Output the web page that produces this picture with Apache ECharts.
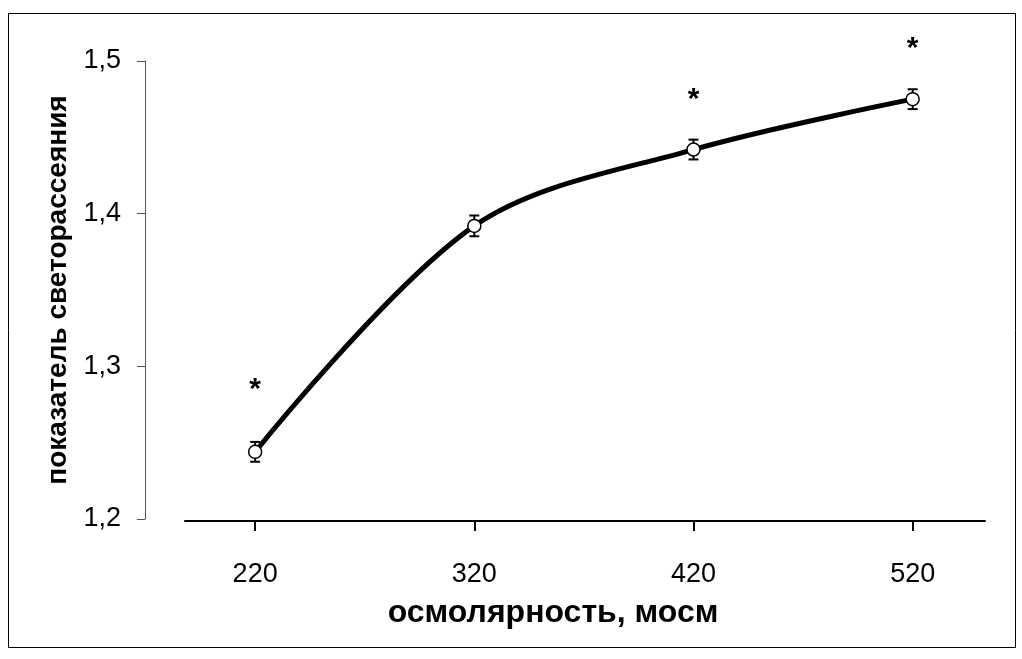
<!DOCTYPE html>
<html>
<head>
<meta charset="utf-8">
<script src="https://cdn.jsdelivr.net/npm/echarts@6/dist/echarts.min.js"></script>
<style>
  html, body { margin: 0; padding: 0; background: #fff; }
  #chart { width: 1022px; height: 659px; }
</style>
</head>
<body>
<div id="chart"></div>
<script>
// Osmolarity (mOsm) and light-scattering index, mean ± error
const osmolarity = [220, 320, 420, 520];
const scattering = [1.244, 1.392, 1.442, 1.475];
const errors = [0.0065, 0.0068, 0.0065, 0.0065];
const significant = [true, false, true, true];
const yTicks = [1.2, 1.3, 1.4, 1.5];

const FONT = 'Liberation Sans, Arial, sans-serif';

const lineData = osmolarity.map((x, i) => ({
  value: [x, scattering[i]],
  // the lowest point carries its asterisk a little higher
  label: { distance: i === 0 ? 40 : 28 }
}));
const errData = osmolarity.map((x, i) => [x, scattering[i] - errors[i], scattering[i] + errors[i]]);

const chart = echarts.init(document.getElementById('chart'), null, { renderer: 'canvas' });

chart.setOption({
  backgroundColor: '#fff',
  animation: false,
  graphic: [{
    type: 'rect',
    shape: { x: 8.5, y: 13.5, width: 1007, height: 634 },
    style: { fill: 'none', stroke: '#000', lineWidth: 1 },
    silent: true
  }],
  grid: { left: 185, right: 37, top: 61, bottom: 140 },
  xAxis: {
    type: 'value',
    min: 188,
    max: 553,
    offset: 2,
    splitLine: { show: false },
    axisLine: { show: true, lineStyle: { color: '#000', width: 2 } },
    axisTick: { show: true, length: 10, customValues: osmolarity, lineStyle: { color: '#000', width: 2 } },
    axisLabel: { customValues: osmolarity, fontSize: 27, color: '#000', fontFamily: FONT, margin: 40 },
    name: 'осмолярность, мосм',
    nameLocation: 'middle',
    nameGap: 76,
    nameTextStyle: {
      fontSize: 32, fontWeight: 'bold', color: '#000', fontFamily: FONT,
      padding: [0, 64, 0, 0]
    }
  },
  yAxis: {
    type: 'value',
    min: 1.2,
    max: 1.5,
    interval: 0.1,
    offset: 40,
    splitLine: { show: false },
    axisLine: { show: true, lineStyle: { color: '#555', width: 1 } },
    axisTick: { show: true, length: 8, lineStyle: { color: '#555', width: 1 } },
    axisLabel: {
      fontSize: 27, color: '#000', fontFamily: FONT, margin: 24,
      formatter: v => v.toFixed(1).replace('.', ',')
    },
    name: 'показатель светорассеяния',
    nameLocation: 'middle',
    nameGap: 68,
    nameTextStyle: { fontSize: 28, fontWeight: 'bold', color: '#000', fontFamily: FONT }
  },
  series: [
    {
      type: 'custom',
      z: 2,
      silent: true,
      data: errData,
      renderItem: (params, api) => {
        const x = api.value(0);
        const lo = api.coord([x, api.value(1)]);
        const hi = api.coord([x, api.value(2)]);
        const w = 5;
        const st = { stroke: '#000', lineWidth: 2 };
        return {
          type: 'group',
          children: [
            { type: 'line', shape: { x1: lo[0], y1: lo[1], x2: hi[0], y2: hi[1] }, style: st },
            { type: 'line', shape: { x1: lo[0] - w, y1: lo[1], x2: lo[0] + w, y2: lo[1] }, style: st },
            { type: 'line', shape: { x1: hi[0] - w, y1: hi[1], x2: hi[0] + w, y2: hi[1] }, style: st }
          ]
        };
      }
    },
    {
      type: 'line',
      z: 3,
      data: lineData,
      smooth: 0.33,
      lineStyle: { color: '#000', width: 5 },
      symbol: 'circle',
      symbolSize: 13,
      itemStyle: { color: '#fff', borderColor: '#000', borderWidth: 1.5 },
      label: {
        show: true,
        position: 'top',
        distance: 28,
        fontSize: 30,
        fontWeight: 'bold',
        color: '#000',
        fontFamily: FONT,
        formatter: p => (significant[p.dataIndex] ? '*' : '')
      }
    }
  ]
});
</script>
</body>
</html>
